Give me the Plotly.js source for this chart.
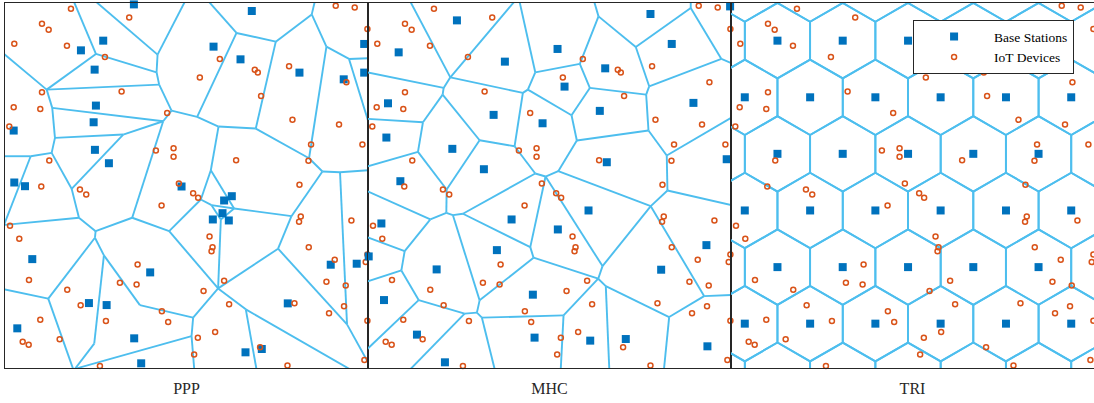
<!DOCTYPE html>
<html><head><meta charset="utf-8">
<script src="https://cdn.plot.ly/plotly-3.0.1.min.js"></script>
<style>html,body{margin:0;padding:0;background:#fff}#chart{width:1094px;height:403px}</style>
</head><body><div id="chart"></div>
<script>
// ---------- DATA (panel-local units; x: 0..363.3 left->right, y: 0..365.7 top->bottom) ----------
const panelTitles = ['PPP', 'MHC', 'TRI'];

// IoT devices (identical positions in all three panels)
const devX = [66,124.3,37,43.7,9.3,62,100,37,116.7,8.7,35.3,4.3,162.3,151,168.7,168.7,44.3,174,36.3,75,331,350,362.7,215,195,250,253,284.3,341.7,256.3,287.7,334.3,306.3,357.7,231.3,303.7,294.7,81.3,156.7,5,14.3,132.7,24,115,131.7,62.3,75.7,35.3,101,157,163.3,17.7,23.7,54.7,95,188.3,193.3,296,294.3,346.7,204.7,207.7,206.7,304,330,361,362.7,321.7,341,219.3,198.7,224.3,289.7,324.3,339.3,362.7,210.3,193,189.3,255.3,282.7,359.7];
const devY = [6,14.7,21,27,41,43,54.3,89.7,89,104.7,106.3,124,110.3,148,145.7,154.3,158,181,184,187,3,4.7,26.3,56.3,75,67,70,63.7,79.7,93.3,117.3,122,142,142,157.7,158.3,182.3,192,203,223.3,236.3,262,277.7,280.3,282,287.3,303,317.3,318.7,309,319.7,339.3,342.3,337,363.7,190.7,195.3,214,219.3,218,234,244.7,248.7,244.7,257.3,259.7,252,279.3,283,278.3,288.7,302,301,311,304,318.3,329.7,335.3,352.3,345,363.3,357.7];

// Base stations: PPP
const pppX = [129,98.3,76,89.7,91,88.7,8.7,90,104,9.3,20,176.7,247,208.7,235.7,294.7,339,359.5,359.5,27.3,145.3,84,101.7,12.3,129.3,136.3,227,219.3,217.7,208,224,326,352,283,240.7,257];
const pppY = [1.7,38,47.7,67,103,119.7,128,147.3,160.7,180,183.7,184,8.3,44,56.7,70,76.7,41.3,70,256.7,270,300.7,302.7,326,336,361,193.7,198,210.7,217,218,262.3,261.3,301,350,346.7];

// Base stations: MHC
const mhcX = [89,30.7,137,20,125.7,174.7,18.4,84.4,116,32.4,282.7,304,189.7,237.4,196.7,232,325.7,239,359,362.4,0.7,13.4,68.7,129,143.7,165,16,49,166.7,77,220.7,190,338.7,293.4,222.4,258,339.7];
const mhcY = [17.7,49.7,59,100.7,112.3,120.7,135,146.3,166.7,178.7,11.3,41.3,46.3,65.7,84,108.3,100.3,159.7,156.7,3.7,254,221,267,247.7,217,292.3,297.7,332.3,335.3,360,208,227,242.7,267.3,338.3,336.7,344];

// Base stations: TRI (visible lattice sites)
const triX = [46.5,111.8,177.2,242.5,307.8, 13.8,79.2,144.5,209.8,275.2,340.5, 46.5,111.8,177.2,242.5,307.8, 13.8,79.2,144.5,209.8,275.2,340.5, 46.5,111.8,177.2,242.5,307.8, 13.8,79.2,144.5,209.8,275.2,340.5];
const triY = [38,38,38,38,38, 94.7,94.7,94.7,94.7,94.7,94.7, 151.3,151.3,151.3,151.3,151.3, 208,208,208,208,208,208, 264.7,264.7,264.7,264.7,264.7, 321.3,321.3,321.3,321.3,321.3,321.3];
// TRI lattice sites just outside the window (they shape the border cells, not drawn)
const triGhostX = [13.8,79.2,144.5,209.8,275.2,340.5, -18.8,373.2, -18.8,373.2, -18.8,373.2, -18.8,46.5,111.8,177.2,242.5,307.8,373.2];
const triGhostY = [-18.7,-18.7,-18.7,-18.7,-18.7,-18.7, 38,38, 151.3,151.3, 264.7,264.7, 378,378,378,378,378,378,378];

// Cell boundaries: [x1, y1, x2, y2]
const pppEdges = [
[69,-1,91,51.3],[91,-1,152.7,52],[180,-1,152.7,52],[152.7,52,151.7,69.7],[91,51.3,151.7,69.7],
[91,51.3,41.7,87],[-1,51.2,41.7,87],[41.7,87,154.3,82],[151.7,69.7,154.3,82],[41.7,87,47.3,105.3],
[154.3,82,166.7,108],[166.7,108,192.3,114.3],[47.3,105.3,158.3,118.7],[158.3,118.7,166.7,108],
[47.3,105.3,50,135.3],[50,135.3,118.3,132],[118.3,132,158.3,118.7],[118.3,132,66.7,186.3],
[158.3,118.7,127.3,215.3],[50,135.3,46.7,150.3],[-1,153.7,25.7,153.7],[25.7,153.7,46.7,150.3],
[25.7,153.7,-1,222.5],[46.7,150.3,66.7,186.3],[204,-1,231.7,30.3],[231.7,30.3,271,39],
[310,-1,307,11.7],[307,11.7,271,39],[307,11.7,321.7,44],[321.7,44,344.3,56.3],[344.3,56.3,365,55.6],
[344.3,56.3,365,123.5],[321.7,44,304.3,155.7],[231.7,30.3,192.3,114.3],[192.3,114.3,213.7,124],
[271,39,251,126],[213.7,124,251,126],[251,126,304.3,155.7],[304.3,155.7,317.7,169],
[317.7,169,335.3,169.7],[335.3,169.7,365,167.6],[335.3,169.7,342.3,322],[317.7,169,286.7,213.7],
[213.7,124,206,167.7],[206,167.7,196,197],[206,167.7,229.3,206],[-1,222.5,74,215.3],
[66.7,186.3,74,215.3],[74,215.3,90.7,228.7],[90.7,228.7,127.3,215.3],[127.3,215.3,164.3,228.7],
[164.3,228.7,196,197],[164.3,228.7,213.3,286],[90.7,228.7,90,235.3],[90,235.3,43.3,296.3],
[90,235.3,99,253],[99,253,135,302.7],[99,253,89.3,341.3],[-1,286.8,43.3,296.3],[43.3,296.3,68.3,367],
[89.3,341.3,69.7,367],[70,366.5,186.7,333.7],[135,302.7,188.3,315.3],[188.3,315.3,186.7,333.7],
[186.7,333.7,189.4,367],[188.3,315.3,213.3,286],[213.3,286,273.3,246.3],[273.3,246.3,286.7,213.7],
[229.3,206,286.7,213.7],[273.3,246.3,342.3,322],[342.3,322,365,363],[241,307,251.7,367],
[241,307,345.3,367],[213.3,286,241,307],[196,197,206.7,202.7],[206.7,202.7,229.3,206],
[206.7,202.7,216,217],[216,217,229.3,206],[216,217,213.3,286]
];
const mhcEdges = [
[42.4,-1,82.4,74.7],[146.4,-1,82.4,74.7],[151.7,-1,167.4,69.7],[167.4,69.7,212,61.3],[167.4,69.7,160,87],
[82.4,74.7,75.7,85.3],[82.4,74.7,155,90.3],[155,90.3,160,87],[160,87,203.7,112.7],[-2,69.5,75.7,85.3],
[75.7,85.3,74.7,92],[74.7,92,55,119.7],[74.7,92,111.7,137.7],[155,90.3,146.7,143.7],[111.7,137.7,146.7,143.7],
[-2,116.2,55,119.7],[55,119.7,50,149.3],[-2,164.3,50,149.3],[50,149.3,78.7,187],[111.7,137.7,78.7,187],
[146.7,143.7,167.4,171],[167.4,171,177.7,174],[177.7,174,190.4,168.7],[177.7,174,162.4,244.7],
[177.7,174,234.7,263.7],[167.4,171,95,211.3],[226.4,-1,230.7,13.7],[230.7,13.7,268,44.3],[323,5.3,268,44.3],
[323,5.3,323,-1],[323,5.3,353.7,56.3],[353.7,56.3,365,61],[353.7,56.3,281.4,83.7],[268,44.3,281.4,83.7],
[281.4,83.7,278.4,92],[230.7,13.7,212,61.3],[212,61.3,222,85.3],[222,85.3,278.4,92],[222,85.3,203.7,112.7],
[203.7,112.7,209,138],[209,138,280.7,128],[278.4,92,280.7,128],[280.7,128,299,153],[299,153,365,114.3],
[299,153,299.7,188],[209,138,190.4,168.7],[190.4,168.7,283,203.7],[283,203.7,299.7,188],[299.7,188,365,203],
[283,203.7,234.7,263.7],[234.7,263.7,230.4,276.3],[230.4,276.3,165.7,255.3],[230.4,276.3,195.7,313],
[195.7,313,192.9,367],[230.4,276.3,238,283.7],[238,283.7,241.5,367],[238,283.7,301.4,314.7],
[301.4,314.7,296.2,367],[301.4,314.7,336.4,293.7],[336.4,293.7,365,292.6],[336.4,293.7,283,203.7],
[-2,188.1,62.4,217],[62.4,217,78.4,210.3],[78.7,187,78.4,210.3],[78.4,210.3,85,212.7],[85,212.7,95,211.3],
[85,212.7,111.7,298],[95,211.3,162.4,244.7],[162.4,244.7,165.7,255.3],[165.7,255.3,111.7,298],
[111.7,298,109,310.3],[109,310.3,96.7,311.3],[109,310.3,114,315.3],[114,315.3,195.7,313],
[114,315.3,126.8,367],[96.7,311.3,50.7,297.7],[96.7,311.3,42.3,367],[50.7,297.7,33.4,268],
[33.4,268,36.7,248.7],[36.7,248.7,62.4,217],[36.7,248.7,-2,234.3],[33.4,268,-2,279.6],[50.7,297.7,-2,347.9]
];

// ---------- helpers ----------
function segsToXY(segs) {
  const x = [], y = [];
  segs.forEach(s => { x.push(s[0], s[2], null); y.push(s[1], s[3], null); });
  return {x, y};
}
function clipHalf(poly, a, b, c) {
  const out = [];
  for (let k = 0; k < poly.length; k++) {
    const P = poly[k], Q = poly[(k + 1) % poly.length];
    const fP = a * P[0] + b * P[1] - c, fQ = a * Q[0] + b * Q[1] - c;
    if (fP <= 0) out.push(P);
    if ((fP <= 0) !== (fQ <= 0)) {
      const t = fP / (fP - fQ);
      out.push([P[0] + t * (Q[0] - P[0]), P[1] + t * (Q[1] - P[1])]);
    }
  }
  return out;
}
function voronoiXY(xs, ys) {
  const X = [], Y = [];
  const lo = -150, hi = 520;
  for (let i = 0; i < xs.length; i++) {
    let poly = [[lo, lo], [hi, lo], [hi, hi], [lo, hi]];
    for (let j = 0; j < xs.length && poly.length; j++) {
      if (j === i) continue;
      const a = xs[j] - xs[i], b = ys[j] - ys[i];
      const c = (xs[j] * xs[j] + ys[j] * ys[j] - xs[i] * xs[i] - ys[i] * ys[i]) / 2;
      poly = clipHalf(poly, a, b, c);
    }
    poly.forEach(p => { X.push(p[0]); Y.push(p[1]); });
    if (poly.length) { X.push(poly[0][0]); Y.push(poly[0][1]); }
    X.push(null); Y.push(null);
  }
  return {x: X, y: Y};
}

// ---------- styles ----------
const edgeColor = '#4DBEEE', bsColor = '#0072BD', devColor = '#D95319';
const serif = 'Liberation Serif, Times New Roman, serif';

const edges = [segsToXY(pppEdges), segsToXY(mhcEdges),
  voronoiXY(triX.concat(triGhostX), triY.concat(triGhostY))];
const bs = [[pppX, pppY], [mhcX, mhcY], [triX, triY]];

const traces = [];
for (let p = 0; p < 3; p++) {
  const xa = p === 0 ? 'x' : 'x' + (p + 1), ya = p === 0 ? 'y' : 'y' + (p + 1);
  traces.push({type: 'scatter', mode: 'lines', x: edges[p].x, y: edges[p].y, xaxis: xa, yaxis: ya,
    line: {color: edgeColor, width: 1.9}, hoverinfo: 'skip', showlegend: false});
}
for (let p = 0; p < 3; p++) {
  const xa = p === 0 ? 'x' : 'x' + (p + 1), ya = p === 0 ? 'y' : 'y' + (p + 1);
  traces.push({type: 'scatter', mode: 'markers', name: 'Base Stations', x: bs[p][0], y: bs[p][1],
    xaxis: xa, yaxis: ya, cliponaxis: false, showlegend: p === 2, legendgroup: 'bs',
    marker: {symbol: 'square', size: 8, color: bsColor, line: {width: 0}}});
}
for (let p = 0; p < 3; p++) {
  const xa = p === 0 ? 'x' : 'x' + (p + 1), ya = p === 0 ? 'y' : 'y' + (p + 1);
  traces.push({type: 'scatter', mode: 'markers', name: 'IoT Devices', x: devX, y: devY,
    xaxis: xa, yaxis: ya, cliponaxis: false, showlegend: p === 2, legendgroup: 'dev',
    marker: {symbol: 'circle-open', size: 5, color: devColor, line: {width: 1.5, color: devColor}}});
}

function xAx(i) {
  return {domain: [i / 3, (i + 1) / 3], range: [0, 363.3], showgrid: false, zeroline: false,
    showticklabels: false, ticks: '', showline: true, mirror: true, linecolor: '#262626', linewidth: 1,
    anchor: i === 0 ? 'y' : 'y' + (i + 1),
    title: {text: panelTitles[i], font: {family: serif, size: 16, color: '#262626'}, standoff: 14}};
}
function yAx(i) {
  return {domain: [0, 1], range: [365.7, 0.3], showgrid: false, zeroline: false,
    showticklabels: false, ticks: '', showline: true, mirror: true, linecolor: '#262626', linewidth: 1,
    anchor: i === 0 ? 'x' : 'x' + (i + 1)};
}

const layout = {
  width: 1094, height: 403,
  margin: {l: 5, r: 0, t: 3, b: 35},
  paper_bgcolor: '#ffffff', plot_bgcolor: '#ffffff',
  xaxis: xAx(0), yaxis: yAx(0), xaxis2: xAx(1), yaxis2: yAx(1), xaxis3: xAx(2), yaxis3: yAx(2),
  showlegend: true,
  legend: {x: 0.9817, xanchor: 'right', y: 0.953, yanchor: 'top', bgcolor: '#ffffff',
    bordercolor: '#262626', borderwidth: 1, itemwidth: 70, tracegroupgap: 0,
    font: {family: serif, size: 13.5, color: '#000000'}},
  font: {family: serif}
};

Plotly.newPlot('chart', traces, layout, {displayModeBar: false, staticPlot: true});
</script></body></html>
